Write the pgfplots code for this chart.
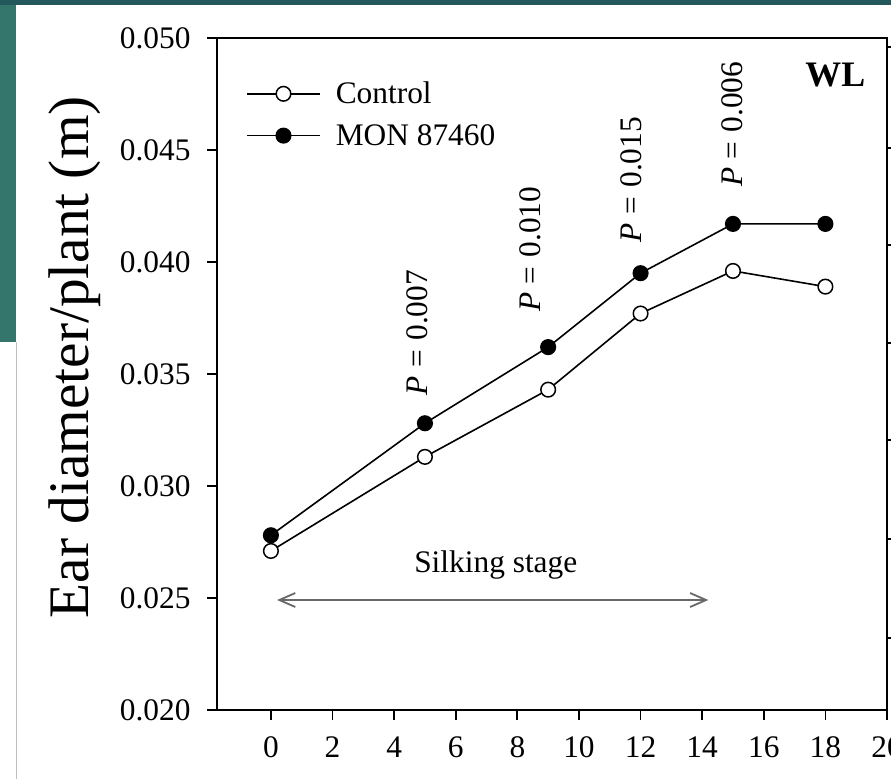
\documentclass[border=0pt]{standalone}
\usepackage{fontspec}
\setmainfont{Liberation Serif}
\usepackage{pgfplots}
\pgfplotsset{compat=1.18}
\usetikzlibrary{arrows.meta}
\definecolor{tealL}{RGB}{52,118,108}
\definecolor{tealT}{RGB}{35,88,92}
\definecolor{arrowgray}{RGB}{105,105,105}
\newcommand{\tfont}{\fontsize{31.5}{37}\selectfont}
\begin{document}
\begin{tikzpicture}[x=1bp,y=1bp]
\useasboundingbox (0,0) rectangle (891,779);
\fill[white] (0,0) rectangle (891,779);
\fill[tealL] (0,437) rectangle (16,779);
\fill[tealT] (0,774) rectangle (891,779);
\draw[gray!50, line width=1bp] (16.5,0) -- (16.5,437);

% neighbouring panel's axis stubs at the right edge
\begin{axis}[
  at={(217bp,69bp)}, anchor=south west, scale only axis,
  width=670bp, height=672bp,
  xmin=0, xmax=1, ymin=0, ymax=1,
  axis x line=none, axis y line*=right,
  ytick={0.107,0.254,0.402,0.546,0.692,0.836,0.987},
  yticklabels={},
  tick align=outside, major tick length=10bp,
  axis line style={line width=1.8bp, black},
  every tick/.style={line width=1.8bp, black},
]
\end{axis}

\begin{axis}[
  at={(217bp,69bp)}, anchor=south west, scale only axis,
  width=670bp, height=672bp,
  xmin=-1.75, xmax=20, ymin=0.020, ymax=0.050,
  xtick={0,2,4,6,8,10,12,14,16,18,20},
  ytick={0.020,0.025,0.030,0.035,0.040,0.045,0.050},
  scaled y ticks=false,
  yticklabel style={xshift=-13bp, /pgf/number format/.cd, fixed, fixed zerofill, precision=3},
  xticklabel style={yshift=-13bp},
  /pgf/number format/assume math mode=true,
  tick label style={font=\tfont},
  xtick pos=bottom, ytick pos=left,
  tick align=outside, major tick length=10bp,
  axis line style={line width=1.8bp, black},
  every tick/.style={line width=1.8bp, black},
  ylabel={Ear diameter/plant (m)},
  ylabel style={font=\fontsize{57.5}{64}\selectfont, at={(axis description cs:-0.212,0.525)}, anchor=center},
  legend style={at={(axis description cs:0,1)}, anchor=north west, xshift=26bp, yshift=-35bp,
    draw=none, fill=none, font=\tfont, row sep=5bp,
    nodes={inner sep=7bp},
    /tikz/every odd column/.append style={column sep=8bp}},
  legend cell align=left,
  legend image code/.code={\draw[mark repeat=2,mark phase=2,#1] plot coordinates {(0bp,0bp) (36.5bp,0bp) (73bp,0bp)};},
  clip=false,
]
\addplot[black, line width=1.6bp, mark=*, mark size=7.3bp,
  mark options={fill=white, draw=black, line width=1.5bp}]
  coordinates {(0,0.0271) (5,0.0313) (9,0.0343) (12,0.0377) (15,0.0396) (18,0.0389)};
\addlegendentry{Control}
\addplot[black, line width=1.6bp, mark=*, mark size=7.3bp,
  mark options={fill=black, draw=black, line width=1.5bp}]
  coordinates {(0,0.0278) (5,0.0328) (9,0.0362) (12,0.0395) (15,0.0417) (18,0.0417)};
\addlegendentry{MON 87460}

\node[rotate=90, anchor=west, inner sep=0pt, font=\tfont] at (axis cs:4.74,0.03405) {\textit{P}\hspace{0.28em}=\hspace{0.28em}0.007};
\node[rotate=90, anchor=west, inner sep=0pt, font=\tfont] at (axis cs:8.41,0.03776) {\textit{P}\hspace{0.28em}=\hspace{0.28em}0.010};
\node[rotate=90, anchor=west, inner sep=0pt, font=\tfont] at (axis cs:11.7,0.04088) {\textit{P}\hspace{0.28em}=\hspace{0.28em}0.015};
\node[rotate=90, anchor=west, inner sep=0pt, font=\tfont] at (axis cs:14.97,0.04334) {\textit{P}\hspace{0.28em}=\hspace{0.28em}0.006};
\node[anchor=base, inner sep=0pt, font=\tfont] at (axis cs:7.3,0.02613) {Silking stage};
\draw[arrowgray, line width=1.8bp, {Straight Barb[length=16bp,width=14bp,line width=1.8bp]}-{Straight Barb[length=16bp,width=14bp,line width=1.8bp]}]
  (axis cs:0.2,0.02491) -- (axis cs:14.2,0.02491);
\node[anchor=north east, inner sep=0pt, font=\fontsize{36}{42}\selectfont\bfseries] at (axis cs:19.3,0.04890) {WL};
\end{axis}
\end{tikzpicture}
\end{document}
